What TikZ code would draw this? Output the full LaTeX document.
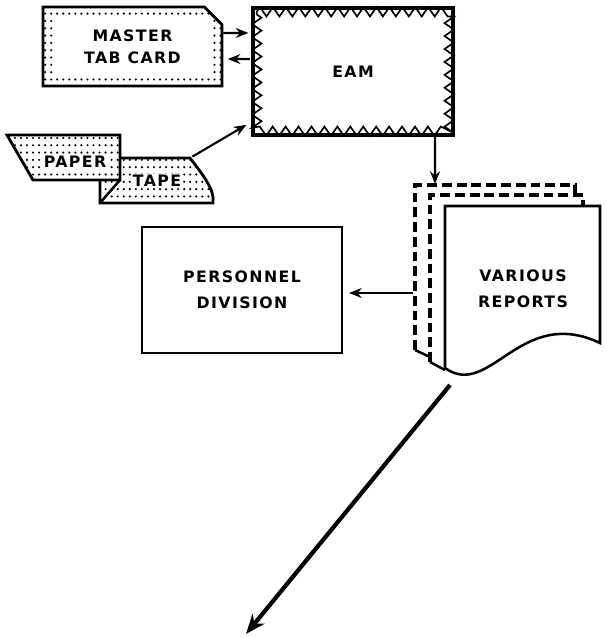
\documentclass[tikz,border=0pt]{standalone}
\usepackage{fontspec}
\newfontfamily\diafont[LetterSpace=9]{DejaVu Sans}
\usetikzlibrary{arrows.meta, patterns, calc, shapes.misc, decorations.pathmorphing}

% sparse dot fill for the punched media
\pgfdeclarepatternformonly{cardots}{\pgfqpoint{-1pt}{-1pt}}{\pgfqpoint{5pt}{6pt}}{\pgfqpoint{4.3pt}{5.2pt}}{%
  \pgfpathcircle{\pgfqpoint{2pt}{2pt}}{0.85pt}\pgfusepath{fill}}

\begin{document}
\begin{tikzpicture}[
    x=0.025cm, y=-0.025cm,
    diatext/.style={font=\diafont\bfseries\fontsize{11.2}{18.5}\selectfont, align=center},
    card/.style={chamfered rectangle, chamfered rectangle corners=north east, chamfered rectangle xsep=5pt, chamfered rectangle ysep=7.5pt, draw, line width=2pt, fill=white, minimum width=4.475cm, minimum height=1.975cm, inner sep=0pt,
        path picture={\fill[pattern=cardots] (path picture bounding box.north west) rectangle (path picture bounding box.south east);
            \fill[white] ([shift={(12,12)}]path picture bounding box.north west) rectangle ([shift={(-12,-12)}]path picture bounding box.south east);}},
    machine/.style={rectangle, draw, line width=2.4pt, minimum width=5cm, minimum height=3.175cm},
    office/.style={rectangle, draw, line width=2pt, minimum width=5cm, minimum height=3.15cm},
    tapepart/.style={draw, line width=2pt, pattern=cardots, preaction={fill=white}},
    zigzag/.style={decorate, decoration={zigzag, amplitude=3.3pt, segment length=9.2pt}, line width=1.2pt},
    sheet/.style={line width=1.8pt},
    backsheet/.style={line width=2.2pt, dash pattern=on 7pt off 3.5pt},
    arrow/.style={-{Stealth[length=9pt, width=7pt]}, line width=1.5pt},
    bigarrow/.style={-{Stealth[length=14pt, width=11pt]}, line width=3pt}]

    \useasboundingbox (0,0) rectangle (606,638);

    % Input media
    \node[card, diatext, font=\diafont\bfseries\fontsize{11.2}{15.6}\selectfont] (master) at (132.5,46.5) {MASTER\\TAB CARD};

    \draw[tapepart] (100,158) -- (190,158) coordinate (tape-end) .. controls (203,175) and (215,190) .. (213,203) -- (100,203) -- cycle;
    \draw[sheet] (100,203) -- (120,180);
    \draw[tapepart] (7,135) -- (120,135) -- (120,180) -- (33,180) -- cycle;
    \node[diatext, fill=white, inner sep=1pt] (paper) at (75,162) {PAPER};
    \node[diatext, fill=white, inner sep=1pt] (tape) at (157,181) {TAPE};

    % Machine
    \node[machine, diatext] (eam) at (353,71.5) {EAM};
    \draw[zigzag] ([shift={(5.5,5.5)}]eam.north west) -- ([shift={(-5.5,5.5)}]eam.north east) -- ([shift={(-5.5,-5.5)}]eam.south east) -- ([shift={(5.5,-5.5)}]eam.south west) -- cycle;

    % Report stack
    \draw[backsheet] (415,350) -- (415,185) -- (575,185) -- (575,195);
    \draw[sheet] (415,350) -- (430,357);
    \draw[backsheet] (430,362) -- (430,195) -- (583,195) -- (583,205);
    \draw[sheet] (430,362) -- (445,370);
    \draw[sheet, fill=white] (445,368) -- (445,206) -- (600,206) -- (600,343) .. controls (520,305) and (490,400) .. (445,368) -- cycle;
    \node[diatext] (reports) at (523,289) {VARIOUS\\REPORTS};
    \coordinate (rep-in) at (435,184);
    \coordinate (rep-out) at (413,293);
    \coordinate (rep-foot) at (450,385);
    \coordinate (far-end) at (246,634);

    % Office
    \node[office, diatext] (personnel) at (242,290) {PERSONNEL\\DIVISION};

    % Connectors
    \draw[arrow, shorten >=2pt] ([yshift=9.6pt]master.east) -- ([yshift=27.4pt]eam.west);
    \draw[arrow, shorten <=1pt, shorten >=3pt] ([yshift=8.9pt]eam.west) -- ([yshift=-8.9pt]master.east);
    \draw[arrow, shorten <=2pt, shorten >=4pt] (tape-end) -- ([yshift=-35.9pt]eam.west);
    \draw[arrow] ([xshift=58.3pt]eam.south) -- (rep-in);
    \draw[arrow, shorten >=4pt] (rep-out) -- (rep-out -| personnel.east);
    \draw[bigarrow] (rep-foot) -- (far-end);
\end{tikzpicture}
\end{document}
